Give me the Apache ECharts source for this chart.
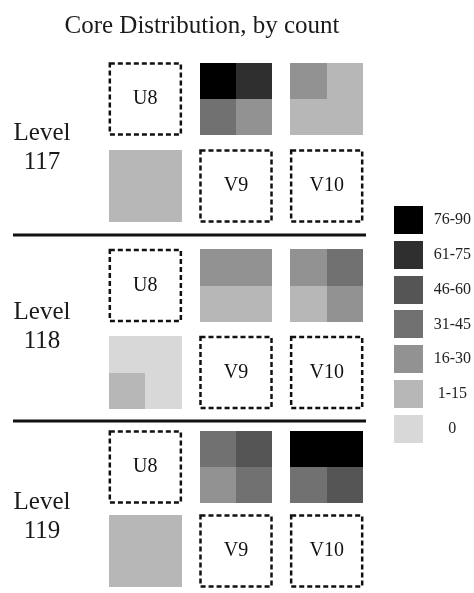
<!DOCTYPE html>
<html>
<head>
<meta charset="utf-8">
<script src="https://cdn.jsdelivr.net/npm/echarts@6/dist/echarts.min.js"></script>
<style>
  html, body { margin: 0; padding: 0; background: #fff; }
  #chart { width: 474px; height: 593px; }
</style>
</head>
<body>
<div id="chart"></div>
<script>
// ---- data ----
const chartTitle = 'Core Distribution, by count';
const sites = ['U8', 'V9', 'V10'];
const rows = ['top', 'bottom'];
const levels = ['117', '118', '119'];
const bins = ['0', '1-15', '16-30', '31-45', '46-60', '61-75', '76-90'];
const binColors = ['#d8d8d8', '#b7b7b7', '#929292', '#717171', '#555555', '#2f2f2f', '#000000'];
// row that holds each site's core block (the other row holds the labelled dashed box)
const coreRow = ['bottom', 'top', 'top'];
// quadrant bins [top-left, top-right, bottom-left, bottom-right] for U8, V9, V10
const level117 = [
  ['1-15', '1-15', '1-15', '1-15'],
  ['76-90', '61-75', '31-45', '16-30'],
  ['16-30', '1-15', '1-15', '1-15']
];
const level118 = [
  ['0', '0', '1-15', '0'],
  ['16-30', '16-30', '1-15', '1-15'],
  ['16-30', '31-45', '1-15', '16-30']
];
const level119 = [
  ['1-15', '1-15', '1-15', '1-15'],
  ['31-45', '46-60', '16-30', '31-45'],
  ['76-90', '76-90', '31-45', '46-60']
];
const levelData = [level117, level118, level119];

// ---- layout ----
const FONT = 'Liberation Serif, Times New Roman, serif';
const panelTops = [55.5, 242, 425];
const levelLabelTops = [114, 293, 483];
const separatorYs = [235, 421];

const chart = echarts.init(document.getElementById('chart'));

function renderCell(params, api) {
  const c = api.coord([api.value(0), api.value(1)]);
  const bw = api.size([1, 1])[0];
  const s = bw * 0.8;
  const xs = [Math.round(c[0] - s / 2), Math.round(c[0]), Math.round(c[0] + s / 2)];
  const ys = [Math.round(c[1] - s / 2), Math.round(c[1]), Math.round(c[1] + s / 2)];
  const q = api.value(2);
  const cx = q % 2, cy = Math.floor(q / 2);
  return {
    type: 'rect',
    shape: { x: xs[cx], y: ys[cy], width: xs[cx + 1] - xs[cx], height: ys[cy + 1] - ys[cy] },
    style: { fill: binColors[api.value(3)] }
  };
}

function renderBox(params, api) {
  const c = api.coord([api.value(0), api.value(1)]);
  const bw = api.size([1, 1])[0];
  const s = bw * 0.8 - 1.5;
  return {
    type: 'group',
    children: [
      {
        type: 'rect',
        shape: { x: c[0] - s / 2, y: c[1] - s / 2, width: s, height: s },
        style: { fill: 'none', stroke: '#111', lineWidth: 2.5, lineDash: [5, 3] }
      },
      {
        type: 'text',
        x: c[0], y: c[1],
        style: {
          text: sites[api.value(0)], fill: '#111', font: '20px ' + FONT,
          align: 'center', verticalAlign: 'middle'
        }
      }
    ]
  };
}

function renderLegendCell(params, api) {
  const c = api.coord([api.value(0), api.value(1)]);
  const sz = api.size([1, 1]);
  const w = sz[0] * 0.8, h = sz[1] * 0.8;
  return {
    type: 'rect',
    shape: { x: Math.round(c[0] - w / 2), y: Math.round(c[1] - h / 2), width: Math.round(w), height: Math.round(h) },
    style: { fill: binColors[api.value(2)] }
  };
}

const grids = [], xAxes = [], yAxes = [], series = [], titles = [];

titles.push({
  text: chartTitle, left: 197, top: 9, textAlign: 'center',
  textStyle: { fontFamily: FONT, fontSize: 25, fontWeight: 'normal', color: '#1a1a1a' }
});

levels.forEach((lv, li) => {
  grids.push({ left: 100, top: panelTops[li], width: 272, height: 174 });
  xAxes.push({ type: 'category', data: sites, gridIndex: li, show: false });
  yAxes.push({ type: 'category', data: rows, gridIndex: li, inverse: true, show: false });
  const cells = [], boxes = [];
  sites.forEach((site, si) => {
    const r = rows.indexOf(coreRow[si]);
    levelData[li][si].forEach((b, q) => cells.push([si, r, q, bins.indexOf(b)]));
    boxes.push([si, 1 - r]);
  });
  series.push({
    type: 'custom', name: 'Level ' + lv, xAxisIndex: li, yAxisIndex: li,
    renderItem: renderCell, data: cells, silent: true
  });
  series.push({
    type: 'custom', name: 'Level ' + lv + ' sites', xAxisIndex: li, yAxisIndex: li,
    renderItem: renderBox, data: boxes, silent: true
  });
  titles.push({
    text: 'Level\n' + lv, left: 37, top: levelLabelTops[li], textAlign: 'center',
    textStyle: { fontFamily: FONT, fontSize: 25, fontWeight: 'normal', color: '#1a1a1a', lineHeight: 29 }
  });
});

// legend as its own grid
const lg = levels.length;
grids.push({ left: 390, top: 202.6, width: 37, height: 243.6 });
xAxes.push({ type: 'category', data: [''], gridIndex: lg, show: false });
yAxes.push({
  type: 'category', data: bins, gridIndex: lg, position: 'right',
  axisLine: { show: false }, axisTick: { show: false }, splitLine: { show: false },
  axisLabel: { margin: 25.5, align: 'center', fontFamily: FONT, fontSize: 16, color: '#222' }
});
series.push({
  type: 'custom', name: 'legend', xAxisIndex: lg, yAxisIndex: lg,
  renderItem: renderLegendCell, data: bins.map((b, i) => [0, i, i]), silent: true
});

chart.setOption({
  backgroundColor: '#fff',
  animation: false,
  title: titles,
  grid: grids,
  xAxis: xAxes,
  yAxis: yAxes,
  series: series,
  graphic: separatorYs.map(y => ({
    type: 'line', shape: { x1: 13, y1: y, x2: 366, y2: y },
    style: { stroke: '#111', lineWidth: 3 }
  }))
});
</script>
</body>
</html>
